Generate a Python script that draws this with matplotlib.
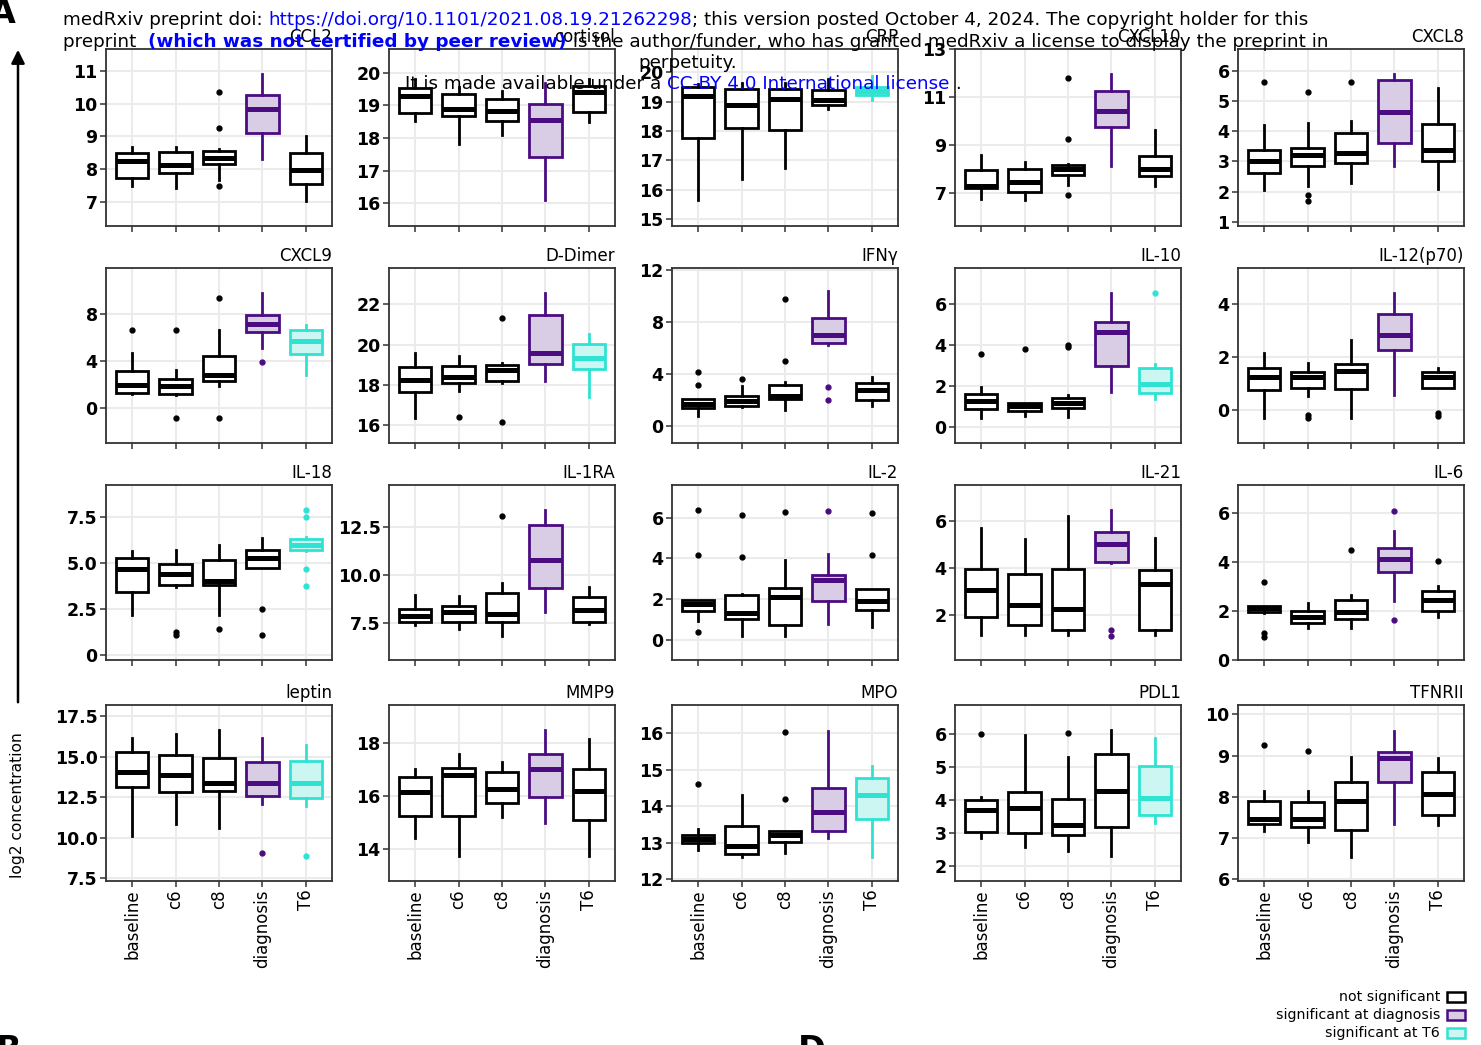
import matplotlib
matplotlib.use('Agg')
import matplotlib.pyplot as plt
from matplotlib.patches import Rectangle

# categories on x
groups = ['baseline', 'c6', 'c8', 'diagnosis', 'T6']

markers = ['CCL2', 'cortisol', 'CRP', 'CXCL10', 'CXCL8',
           'CXCL9', 'D-Dimer', 'IFNγ', 'IL-10', 'IL-12(p70)',
           'IL-18', 'IL-1RA', 'IL-2', 'IL-21', 'IL-6',
           'leptin', 'MMP9', 'MPO', 'PDL1', 'TFNRII']

# n = not significant, d = significant at diagnosis, t = significant at T6
significance = ['nnndn', 'nnndn', 'nnnnt', 'nnndn', 'nnndn',
                'nnndt', 'nnndt', 'nnndn', 'nnndt', 'nnndn',
                'nnnnt', 'nnndn', 'nnndn', 'nnndn', 'nnndn',
                'nnndt', 'nnndn', 'nnndt', 'nnnnt', 'nnndn']

# box stats per group: (low whisker, q1, median, q3, high whisker)
ccl2 = [(7.49, 7.72, 8.23, 8.49, 8.66), (7.41, 7.88, 8.13, 8.53, 8.66), (7.67, 8.14, 8.33, 8.56, 8.62),
        (8.30, 9.10, 9.84, 10.26, 10.89), (7.03, 7.53, 7.95, 8.49, 9.01)]
ccl2_out = [[], [], [10.35, 9.24, 7.49], [], []]
cortisol = [(18.53, 18.76, 19.29, 19.52, 19.8), (17.83, 18.68, 18.90, 19.36, 19.55), (18.08, 18.51, 18.83, 19.19, 19.43),
            (16.09, 17.41, 18.54, 19.05, 19.7), (18.49, 18.81, 19.42, 19.58, 19.8)]
cortisol_out = [[], [], [], [], []]
crp = [(15.64, 17.77, 19.19, 19.5, 19.6), (16.37, 18.11, 18.87, 19.42, 19.65), (16.74, 18.03, 19.09, 19.42, 19.65),
       (18.74, 18.87, 19.06, 19.39, 19.76), (19.06, 19.22, 19.36, 19.51, 19.88)]
crp_out = [[], [], [], [], []]
cxcl10 = [(6.72, 7.19, 7.26, 7.96, 8.56), (6.69, 7.02, 7.44, 7.98, 8.28), (7.33, 7.75, 7.98, 8.14, 8.2),
          (8.12, 9.72, 10.40, 11.25, 11.95), (7.26, 7.68, 7.98, 8.52, 9.60)]
cxcl10_out = [[], [], [11.77, 9.25, 6.89], [], []]
cxcl8 = [(2.06, 2.61, 3.0, 3.39, 4.22), (2.17, 2.83, 3.22, 3.44, 4.28), (2.28, 2.94, 3.28, 3.94, 4.33),
         (2.86, 3.61, 4.63, 5.70, 5.89), (2.09, 3.0, 3.36, 4.24, 5.44)]
cxcl8_out = [[5.62], [5.31, 1.87, 1.69], [5.62], [], []]

cxcl9 = [(1.15, 1.28, 1.98, 3.11, 4.67), (1.05, 1.16, 1.84, 2.49, 3.2), (1.84, 2.29, 2.77, 4.38, 6.64),
         (5.12, 6.45, 7.1, 7.94, 9.75), (2.77, 4.55, 5.66, 6.64, 7.01)]
cxcl9_out = [[6.59], [6.59, -0.9], [9.36, -0.9], [3.9], []]
ddimer = [(16.36, 17.64, 18.25, 18.88, 19.6), (17.72, 18.09, 18.41, 18.94, 19.43), (18.09, 18.22, 18.74, 18.99, 19.07),
          (18.22, 19.02, 19.6, 21.46, 22.56), (17.43, 18.78, 19.32, 20.01, 20.55)]
ddimer_out = [[], [16.44], [21.33, 16.15], [], []]
ifng = [(0.77, 1.36, 1.72, 2.05, 2.1), (1.46, 1.56, 1.92, 2.28, 3.05), (1.25, 2.05, 2.31, 3.18, 3.39),
        (6.2, 6.34, 6.99, 8.27, 10.33), (1.51, 2.03, 2.75, 3.34, 3.77)]
ifng_out = [[4.16, 3.16], [3.59], [9.76, 4.98], [3.0, 1.97], []]
il10 = [(0.44, 0.85, 1.27, 1.59, 1.95), (0.54, 0.76, 1.02, 1.14, 1.16), (0.46, 0.89, 1.14, 1.38, 1.54),
        (1.70, 2.95, 4.62, 5.11, 6.52), (1.33, 1.66, 2.08, 2.87, 3.08)]
il10_out = [[3.54], [3.81], [4.0, 3.9], [], [6.52]]
il12 = [(-0.29, 0.77, 1.27, 1.60, 2.14), (0.55, 0.83, 1.27, 1.45, 1.79), (-0.29, 0.80, 1.49, 1.76, 2.63),
        (0.58, 2.26, 2.82, 3.60, 4.40), (0.85, 0.86, 1.27, 1.45, 1.60)]
il12_out = [[], [-0.16, -0.29], [], [], [-0.1, -0.22]]

il18 = [(2.13, 3.43, 4.69, 5.25, 5.64), (3.66, 3.79, 4.38, 4.96, 5.7), (2.13, 3.79, 4.02, 5.16, 5.95),
        (4.74, 4.74, 5.28, 5.73, 6.36), (5.65, 5.70, 5.95, 6.33, 6.4)]
il18_out = [[], [1.23, 1.05], [1.37], [2.49, 1.09], [7.9, 7.48, 4.65, 3.72]]
il1ra = [(7.38, 7.55, 7.86, 8.21, 8.94), (7.15, 7.52, 8.07, 8.37, 8.89), (6.82, 7.52, 7.95, 9.03, 9.58),
         (8.07, 9.29, 10.76, 12.59, 13.37), (7.43, 7.52, 8.16, 8.85, 9.375)]
il1ra_out = [[], [], [13.07], [], []]
il2 = [(0.92, 1.41, 1.77, 1.97, 1.97), (0.18, 1.03, 1.33, 2.18, 2.22), (0.18, 0.70, 2.10, 2.55, 3.91),
       (0.75, 1.90, 2.92, 3.17, 4.21), (0.62, 1.44, 1.92, 2.48, 2.48)]
il2_out = [[6.39, 4.16, 0.38], [6.13, 4.04], [6.26], [6.3], [6.21, 4.16]]
il21 = [(1.16, 1.93, 3.06, 3.95, 5.68), (1.16, 1.58, 2.45, 3.73, 5.22), (1.16, 1.37, 2.26, 3.97, 6.21),
        (4.2, 4.26, 5.0, 5.53, 6.45), (1.16, 1.37, 3.32, 3.91, 5.25)]
il21_out = [[], [], [], [1.37, 1.13], []]
il6 = [(1.9, 1.96, 2.13, 2.21, 2.21), (1.29, 1.49, 1.76, 1.99, 2.33), (1.29, 1.69, 1.96, 2.44, 2.64),
       (2.41, 3.57, 4.11, 4.55, 5.25), (1.76, 1.99, 2.44, 2.82, 3.01)]
il6_out = [[3.19, 1.12, 0.95], [], [4.48], [6.08, 1.65], [4.03]]

leptin = [(10.13, 13.11, 14.07, 15.26, 16.12), (10.85, 12.80, 13.87, 15.08, 16.39), (10.62, 12.88, 13.39, 14.89, 16.64),
          (12.06, 12.59, 13.35, 14.69, 16.12), (11.96, 12.43, 13.39, 14.73, 15.71)]
leptin_out = [[], [], [], [9.08], [8.88]]
mmp9 = [(14.42, 15.26, 16.15, 16.72, 17.02), (13.76, 15.26, 16.81, 17.08, 17.6), (15.23, 15.74, 16.28, 16.93, 17.31),
        (15.01, 15.97, 17.02, 17.6, 18.5), (13.76, 15.11, 16.20, 17.02, 18.16)]
mmp9_out = [[], [], [], [], []]
mpo = [(12.8, 13.0, 13.10, 13.22, 13.38), (12.62, 12.69, 12.90, 13.47, 14.30), (12.73, 13.03, 13.22, 13.31, 13.31),
       (13.13, 13.33, 13.84, 14.51, 16.07), (12.62, 13.65, 14.30, 14.78, 15.1)]
mpo_out = [[14.62], [], [16.03, 14.2], [], []]
pdl1 = [(2.84, 3.04, 3.70, 4.0, 4.09), (2.57, 2.99, 3.75, 4.24, 5.98), (2.44, 2.94, 3.25, 4.04, 5.32),
        (2.30, 3.19, 4.29, 5.40, 6.13), (3.30, 3.55, 4.06, 5.04, 5.88)]
pdl1_out = [[6.0], [], [6.03], [], []]
tfnrii = [(7.17, 7.33, 7.45, 7.90, 8.14), (6.89, 7.27, 7.45, 7.86, 8.14), (6.54, 7.19, 7.90, 8.35, 8.96),
          (7.34, 8.35, 8.95, 9.09, 9.60), (7.30, 7.55, 8.06, 8.59, 8.93)]
tfnrii_out = [[9.26], [9.12], [], [], []]

ylims = [(6.25, 11.67), (15.30, 20.73), (14.77, 20.79), (5.6, 13.0), (0.86, 6.72),
         (-3.0, 11.9), (15.13, 23.8), (-1.3, 12.13), (-0.8, 7.75), (-1.22, 5.34),
         (-0.30, 9.25), (5.56, 14.67), (-1.0, 7.6), (0.1, 7.51), (0.0, 7.13),
         (7.34, 18.18), (12.8, 19.45), (11.95, 16.78), (1.54, 6.89), (5.95, 10.23)]
ytick_labels = [['7', '8', '9', '10', '11'], ['16', '17', '18', '19', '20'], ['15', '16', '17', '18', '19', '20'],
                ['7', '9', '11', '13'], ['1', '2', '3', '4', '5', '6'],
                ['0', '4', '8'], ['16', '18', '20', '22'], ['0', '4', '8', '12'], ['0', '2', '4', '6'], ['0', '2', '4'],
                ['0', '2.5', '5.0', '7.5'], ['7.5', '10.0', '12.5'], ['0', '2', '4', '6'], ['2', '4', '6'], ['0', '2', '4', '6'],
                ['7.5', '10.0', '12.5', '15.0', '17.5'], ['14', '16', '18'], ['12', '13', '14', '15', '16'],
                ['2', '3', '4', '5', '6'], ['6', '7', '8', '9', '10']]

panels = [(ccl2, ccl2_out), (cortisol, cortisol_out), (crp, crp_out), (cxcl10, cxcl10_out), (cxcl8, cxcl8_out),
          (cxcl9, cxcl9_out), (ddimer, ddimer_out), (ifng, ifng_out), (il10, il10_out), (il12, il12_out),
          (il18, il18_out), (il1ra, il1ra_out), (il2, il2_out), (il21, il21_out), (il6, il6_out),
          (leptin, leptin_out), (mmp9, mmp9_out), (mpo, mpo_out), (pdl1, pdl1_out), (tfnrii, tfnrii_out)]

edge_col = {'n': 'black', 'd': '#4B0C82', 't': '#2FE3D3'}
fill_col = {'n': 'white', 'd': '#D9CDE5', 't': '#CCF6F2'}

W, H = 1481, 1045
fig = plt.figure(figsize=(W / 100, H / 100), dpi=100)

col_left = [106, 389, 672, 955, 1238]
row_top = [49, 268, 485, 705]
row_h = [177, 175, 175, 176]
pw = 226

for i, name in enumerate(markers):
    r, c = divmod(i, 5)
    ax = fig.add_axes([col_left[c] / W, 1 - (row_top[r] + row_h[r]) / H, pw / W, row_h[r] / H])
    box, out = panels[i]
    stats = []
    for b, o in zip(box, out):
        stats.append({'whislo': b[0], 'q1': b[1], 'med': b[2], 'q3': b[3], 'whishi': b[4], 'fliers': o})
    art = ax.bxp(stats, positions=range(1, 6), widths=0.75, patch_artist=True, showcaps=False,
                 boxprops=dict(linewidth=2.0), whiskerprops=dict(linewidth=2.0),
                 medianprops=dict(linewidth=3.6, solid_capstyle='butt'),
                 flierprops=dict(marker='o', markersize=3.5, linestyle='none'))
    for k, s in enumerate(significance[i]):
        ec, fc = edge_col[s], fill_col[s]
        art['boxes'][k].set_facecolor(fc)
        art['boxes'][k].set_edgecolor(ec)
        art['medians'][k].set_color(ec)
        for w in art['whiskers'][2 * k:2 * k + 2]:
            w.set_color(ec)
        art['fliers'][k].set_markerfacecolor(ec)
        art['fliers'][k].set_markeredgecolor(ec)
    ax.set_xlim(0.4, 5.6)
    ax.set_ylim(*ylims[i])
    labs = ytick_labels[i]
    ax.set_yticks([float(v) for v in labs])
    ax.set_yticklabels(labs, fontweight='bold', fontsize=12.5)
    ax.set_xticks(range(1, 6))
    if r == 3:
        ax.set_xticklabels(groups, rotation=90, fontsize=12)
    else:
        ax.tick_params(axis='x', length=0, labelbottom=False)
    ax.tick_params(length=4, width=1.1, color='#333333', pad=2)
    ax.grid(True, color='#EBEBEB', lw=1.5)
    ax.set_axisbelow(True)
    for sp in ax.spines.values():
        sp.set_color('#333333')
        sp.set_linewidth(1.3)
    ax.annotate(name, xy=(1, 1), xycoords='axes fraction', xytext=(0, 5), textcoords='offset points',
                ha='right', va='baseline', fontsize=12)

# overlay in pixel coordinates for the page text, arrow and legend
ov = fig.add_axes([0, 0, 1, 1], zorder=10)
ov.set_xlim(0, W)
ov.set_ylim(H, 0)
ov.axis('off')
ov.patch.set_alpha(0)

hs = 13.2
blue = '#0000FF'


def text_line(parts, x, y, ha='left'):
    prev = None
    for txt, color, weight in parts:
        if prev is None:
            prev = ov.text(x, y, txt, color=color, fontweight=weight, fontsize=hs, ha=ha, va='bottom')
        else:
            prev = ov.annotate(txt, xy=(1, 0), xycoords=prev, color=color, fontweight=weight,
                               fontsize=hs, ha='left', va='bottom')


text_line([('medRxiv preprint doi: ', 'black', 'normal'),
           ('https://doi.org/10.1101/2021.08.19.21262298', blue, 'normal'),
           ('; this version posted October 4, 2024. The copyright holder for this', 'black', 'normal')], 63, 29)
text_line([('preprint  ', 'black', 'normal'),
           ('(which was not certified by peer review)', blue, 'bold'),
           (' is the author/funder, who has granted medRxiv a license to display the preprint in', 'black', 'normal')],
          63, 51)
text_line([('perpetuity.', 'black', 'normal')], 688, 72, ha='center')
text_line([('It is made available under a ', 'black', 'normal'),
           ('CC-BY 4.0 International license', blue, 'normal'),
           (' .', 'black', 'normal')], 405, 93)

# panel letters cut at the page edge
ov.text(-10, 30, 'A', fontsize=24, fontweight='bold', va='bottom', ha='left')
ov.text(-4, 1034, 'B', fontsize=24, fontweight='bold', va='top', ha='left')
ov.text(798, 1034, 'D', fontsize=24, fontweight='bold', va='top', ha='left')

# y axis label with arrow
ov.text(18, 805, 'log2 concentration', rotation=90, ha='center', va='center', fontsize=11.2)
ov.annotate('', xy=(18, 47), xytext=(18, 705),
            arrowprops=dict(arrowstyle='-|>', lw=1.8, color='black', mutation_scale=20))

# legend
leg_labels = ['not significant', 'significant at diagnosis', 'significant at T6']
leg_keys = ['n', 'd', 't']
for j, (lab, key) in enumerate(zip(leg_labels, leg_keys)):
    yy = 997 + 18 * j
    ov.text(1440, yy, lab, ha='right', va='center', fontsize=10.2)
    ov.add_patch(Rectangle((1447, yy - 5), 18, 10, facecolor=fill_col[key], edgecolor=edge_col[key], lw=1.8))

fig.savefig('out.png', dpi=100)
